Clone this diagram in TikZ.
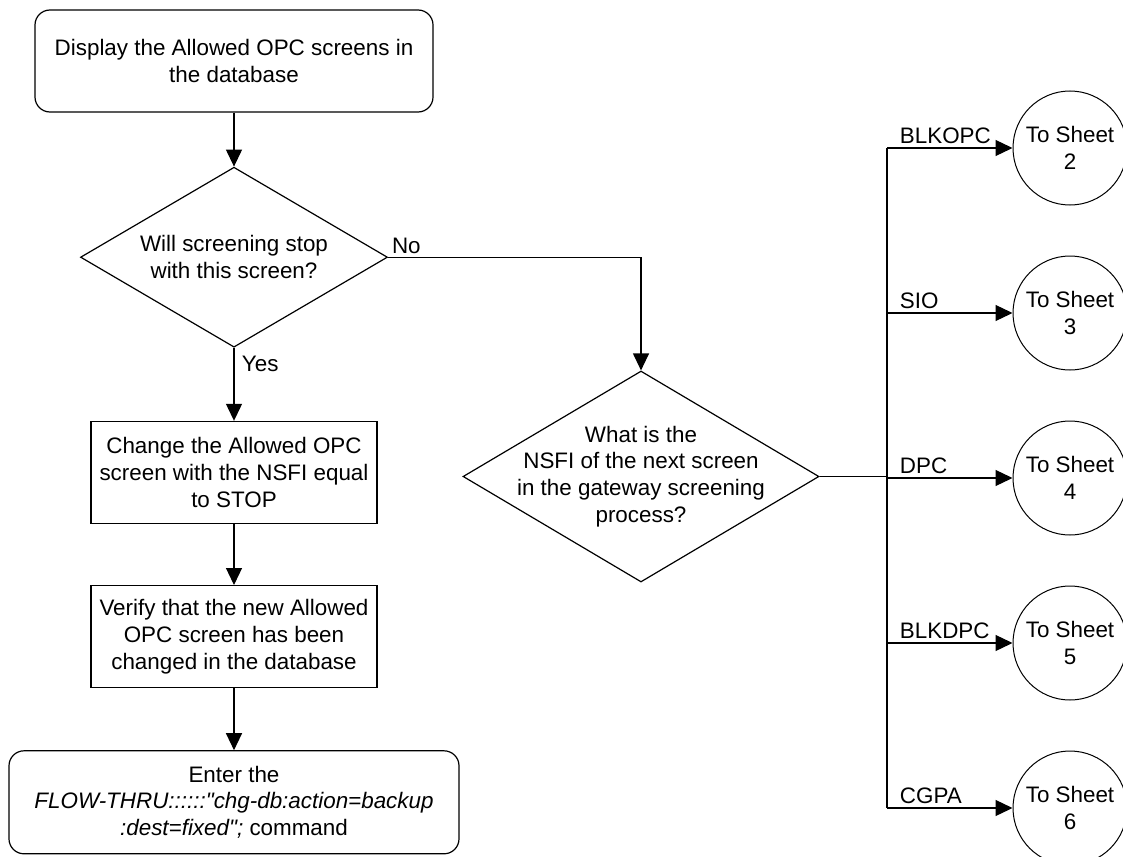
\documentclass[tikz,border=0pt]{standalone}
\usepackage{fontspec}
\setmainfont{Liberation Sans}[Ligatures=TeXOff]
\usetikzlibrary{arrows.meta,positioning,shapes.geometric}

\begin{document}
\begin{tikzpicture}[x=1pt,y=-1pt,>={Triangle[length=17pt,width=16pt]},line width=1.2pt,
  font=\fontsize{22.4pt}{26.8pt}\selectfont,
  box/.style={draw,align=center,inner sep=2pt,minimum width=286pt,minimum height=102pt},
  term/.style={box,rounded corners=15pt},
  dec/.style={draw,diamond,inner sep=0pt},
  sheet/.style={draw,circle,align=center,inner sep=0pt,minimum size=114pt,line width=1pt}]
\useasboundingbox (0,0) rectangle (1123,856);
\node[term,minimum width=398pt] (disp) at (234,61) {Display the Allowed OPC screens in\\the database};
\node[dec,below=54pt of disp,minimum width=307pt,minimum height=180pt,
  label={[align=center]center:Will screening stop\\with this screen?}] (stop) {};
\node[box,below=73pt of stop] (chg) {Change the Allowed OPC\\screen with the NSFI equal\\to STOP};
\node[box,below=61pt of chg] (vfy) {Verify that the new Allowed\\OPC screen has been\\changed in the database};
\node[term,below=62pt of vfy,minimum width=450pt,minimum height=103pt] (ent) {Enter the\\\textit{FLOW-THRU::::::"chg-db:action=backup}\\\textit{:dest=fixed";} command};
\node[dec,minimum width=356pt,minimum height=211pt,
  label={[align=center]center:What is the\\NSFI of the next screen\\in the gateway screening\\process?}] (nsfi) at (641,476.5) {};
% sheet connectors
\node[sheet] (sh2) at (1070,148) {To Sheet\\2};
\node[sheet,below=50pt of sh2] (sh3) {To Sheet\\3};
\node[sheet,below=50pt of sh3] (sh4) {To Sheet\\4};
\node[sheet,below=50pt of sh4] (sh5) {To Sheet\\5};
\node[sheet,below=50pt of sh5] (sh6) {To Sheet\\6};
\coordinate (bus) at (887,476.5);
\draw[->](disp)--(stop);\draw[->](stop)--(chg) node[pos=0.22,right=4pt]{Yes};\draw[->](chg)--(vfy);\draw[->](vfy)--(ent);
\draw[->](stop.east)-|(nsfi.north) node[pos=0,above right]{No};
\draw(nsfi.east)--(bus);\draw(bus|-sh2)--(bus|-sh6);
\foreach \s/\t in {sh2/BLKOPC,sh3/SIO,sh4/DPC,sh5/BLKDPC,sh6/CGPA}
  \draw[->](bus|-\s)--(\s) node[pos=0,above right,xshift=9pt]{\t};
\end{tikzpicture}
\end{document}
